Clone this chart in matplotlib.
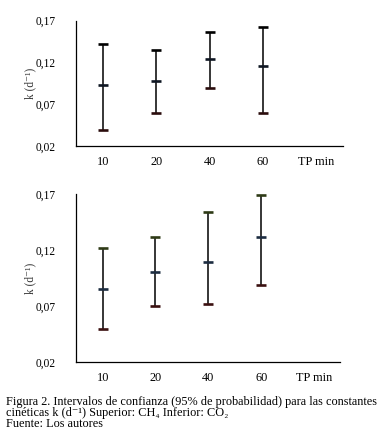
import matplotlib
matplotlib.use("Agg")
import matplotlib.pyplot as plt

categories = ["10", "20", "40", "60", "TP min"]
ch4_low = [0.0395, 0.0595, 0.0894, 0.0595]
ch4_mid = [0.0926, 0.0978, 0.1238, 0.1154]
ch4_high = [0.142, 0.135, 0.156, 0.162]
co2_low = [0.0495, 0.070, 0.0718, 0.0893]
co2_mid = [0.0858, 0.1007, 0.1099, 0.1316]
co2_high = [0.1218, 0.1316, 0.1545, 0.1697]
yticks = [0.02, 0.07, 0.12, 0.17]
ytick_labels = ["0,02", "0,07", "0,12", "0,17"]

serif = ["Liberation Serif", "DejaVu Serif"]

fig = plt.figure(figsize=(3.83, 4.41), dpi=100)

def draw(ax, low, mid, high, capcols):
    x = list(range(len(low)))
    ax.vlines(x, low, high, color="black", linewidth=1.1)
    ax.plot(x, low, linestyle="none", marker="_", markersize=6.5,
            markeredgewidth=1.9, color=capcols[0])
    ax.plot(x, high, linestyle="none", marker="_", markersize=6.5,
            markeredgewidth=1.9, color=capcols[2])
    ax.plot(x, mid, linestyle="none", marker="_", markersize=6.5,
            markeredgewidth=1.9, color=capcols[1])
    ax.set_xlim(-0.5, len(categories) - 0.5)
    ax.set_ylim(0.02, 0.17)
    ax.set_xticks(range(len(categories)))
    ax.set_xticklabels(categories, fontfamily=serif, fontsize=8.8)
    ax.set_yticks(yticks)
    ax.set_yticklabels(ytick_labels, fontfamily=serif, fontsize=8.3)
    ax.tick_params(axis="both", length=0)
    ax.tick_params(axis="y", pad=15)
    ax.tick_params(axis="x", pad=7)
    for s in ["top", "right"]:
        ax.spines[s].set_visible(False)
    for s in ["left", "bottom"]:
        ax.spines[s].set_linewidth(0.9)
        ax.spines[s].set_color("black")
    ax.set_ylabel("k (d\u207b\u00b9)", fontfamily=serif, fontsize=8.3, color="#333333")
    ax.yaxis.set_label_coords(-0.15, 0.5)

ax1 = fig.add_axes([0.1997, 0.669, 0.696, 0.284])
draw(ax1, ch4_low, ch4_mid, ch4_high, ["#2a0c0c", "#0e1622", "#000000"])
ax2 = fig.add_axes([0.199, 0.1785, 0.690, 0.381])
draw(ax2, co2_low, co2_mid, co2_high, ["#3a1010", "#1c2c40", "#2e3a16"])

fig.text(0.015, 1 - 401.7 / 441,
         "Figura 2. Intervalos de confianza (95% de probabilidad) para las constantes",
         fontfamily=serif, fontsize=8.8, va="center", ha="left")
fig.text(0.015, 1 - 412.7 / 441,
         "cinéticas k (d\u207b\u00b9) Superior: CH\u2084 Inferior: CO\u2082",
         fontfamily=serif, fontsize=8.8, va="center", ha="left")
fig.text(0.015, 1 - 423.7 / 441, "Fuente: Los autores",
         fontfamily=serif, fontsize=8.8, va="center", ha="left")

fig.savefig("out.png", dpi=100)
